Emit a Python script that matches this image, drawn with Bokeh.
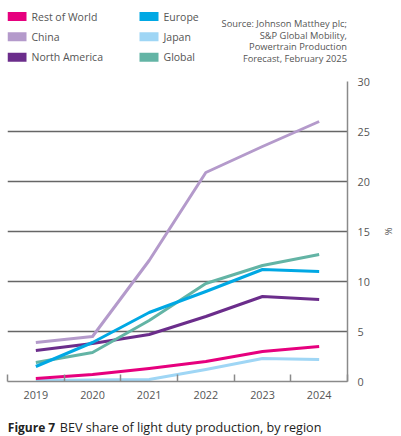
from bokeh.plotting import figure
from bokeh.models import Range1d, FixedTicker
from bokeh.core.properties import value
from bokeh.layouts import column
from bokeh.embed import file_html
from bokeh.resources import INLINE

years = [2019, 2020, 2021, 2022, 2023, 2024]
year_labels = ["2019", "2020", "2021", "2022", "2023", "2024"]
rest_of_world = [0.3, 0.7, 1.3, 2.0, 3.0, 3.5]
china = [3.9, 4.5, 12.1, 20.9, 23.5, 26.0]
north_america = [3.1, 3.8, 4.7, 6.5, 8.5, 8.2]
europe = [1.5, 3.9, 6.9, 9.0, 11.2, 11.0]
japan = [0.1, 0.15, 0.2, 1.2, 2.3, 2.2]
global_share = [1.9, 2.9, 6.1, 9.8, 11.6, 12.7]
y_ticks = [0, 5, 10, 15, 20, 25, 30]

series_names = ["Rest of World", "China", "North America", "Europe", "Japan", "Global"]
series_values = [rest_of_world, china, north_america, europe, japan, global_share]
series_colors = ["#e6007e", "#b49acb", "#6b2d8b", "#00a8e4", "#9fd6f5", "#63b4a5"]
draw_order = ["Japan", "Rest of World", "North America", "Global", "Europe", "China"]

source_lines = ["Source: Johnson Matthey plc;", "S&P Global Mobility,",
                "Powertrain Production", "Forecast, February 2025"]
caption_bold = "Figure 7"
caption_text = "BEV share of light duty production, by region"

FONT = "Open Sans"
TXT = "#555555"
W = 401
FRAME_L, FRAME_R = 7, 347   # frames of all stacked figures are aligned by the column


def bare(fig):
    fig.outline_line_color = None
    fig.xaxis.visible = False
    fig.yaxis.visible = False
    fig.xgrid.visible = False
    fig.ygrid.visible = False
    return fig


# ---------- header (legend + source) ----------
HH = 72
head = bare(figure(width=W, height=HH, output_backend="svg", toolbar_location=None,
                   x_range=Range1d(FRAME_L, FRAME_R), y_range=Range1d(HH, 0),
                   min_border=0))

# legend layout: 3 rows x 2 columns
col_x = [7, 139]
row_y0, row_pitch = 16, 20.35
sw_w, sw_h, gap = 19, 9, 5
leg_x, leg_y, leg_tx = [], [], []
for i in range(len(series_names)):
    c, r = divmod(i, 3)
    leg_x.append(col_x[c] + sw_w / 2)
    leg_y.append(row_y0 + r * row_pitch)
    leg_tx.append(col_x[c] + sw_w + gap)
head.rect(x=leg_x, y=leg_y, width=sw_w, height=sw_h, fill_color=series_colors,
          line_color=None)
head.text(x=leg_tx, y=leg_y, text=series_names, text_align="left",
          text_baseline="middle", text_font=value(FONT), text_font_size="10.5px",
          text_color=TXT)

src_x = [346.5] * len(source_lines)
src_y = [23 + i * 11.7 for i in range(len(source_lines))]
head.text(x=src_x, y=src_y, text=source_lines, text_align="right",
          text_baseline="middle", text_font=value(FONT), text_font_size="9.3px",
          text_color=TXT)

# ---------- main chart ----------
p = figure(width=W, height=340, output_backend="svg", toolbar_location=None,
           x_range=Range1d(2018.5, 2024.5), y_range=Range1d(0, 30),
           y_axis_location="right", min_border_left=FRAME_L, min_border_top=9,
           min_border_right=W - FRAME_R, min_border_bottom=31)
p.outline_line_color = None

p.xgrid.visible = False
p.ygrid.ticker = FixedTicker(ticks=y_ticks[1:])
p.ygrid.grid_line_color = "#666666"
p.ygrid.grid_line_width = 1.3

xa = p.xaxis[0]
xa.ticker = FixedTicker(ticks=years, minor_ticks=[y - 0.5 for y in years] + [years[-1] + 0.5])
xa.major_label_overrides = {y: l for y, l in zip(years, year_labels)}
xa.major_tick_in = 0
xa.major_tick_out = 0
xa.minor_tick_in = 7
xa.minor_tick_out = 0
xa.minor_tick_line_color = "#8a8a8a"
xa.minor_tick_line_width = 1.5
xa.axis_line_color = "#8a8a8a"
xa.axis_line_width = 1.5
xa.major_label_text_font = FONT
xa.major_label_text_font_size = "10.8px"
xa.major_label_text_color = TXT
xa.major_label_standoff = 9

ya = p.yaxis[0]
ya.ticker = FixedTicker(ticks=y_ticks)
ya.major_tick_in = 0
ya.major_tick_out = 0
ya.minor_tick_in = 0
ya.minor_tick_out = 0
ya.axis_line_color = "#8a8a8a"
ya.axis_line_width = 1.5
ya.major_label_text_font = FONT
ya.major_label_text_font_size = "10.8px"
ya.major_label_text_color = TXT
ya.major_label_standoff = 10
ya.axis_label = "%"
ya.axis_label_text_font = FONT
ya.axis_label_text_font_size = "9.5px"
ya.axis_label_text_font_style = "normal"
ya.axis_label_text_color = TXT
ya.axis_label_standoff = 9

lookup = dict(zip(series_names, zip(series_values, series_colors)))
for name in draw_order:
    vals, col = lookup[name]
    p.line(years, vals, line_color=col, line_width=3, line_join="round", line_cap="butt")

# ---------- caption ----------
CH = 24
cap = bare(figure(width=W, height=CH, output_backend="svg", toolbar_location=None,
                  x_range=Range1d(FRAME_L, FRAME_R), y_range=Range1d(CH, 0),
                  min_border=0))
cap.text(x=[7.3], y=[15], text=[caption_bold], text_align="left",
         text_baseline="middle", text_font=value(FONT), text_font_size="12px",
         text_font_style="bold", text_color="#222222")
cap.text(x=[59.3], y=[15], text=[caption_text], text_align="left",
         text_baseline="middle", text_font=value(FONT), text_font_size="12.6px",
         text_color="#222222")

layout = column(head, p, cap, spacing=0)
open("out.html", "w").write(file_html(layout, INLINE))
